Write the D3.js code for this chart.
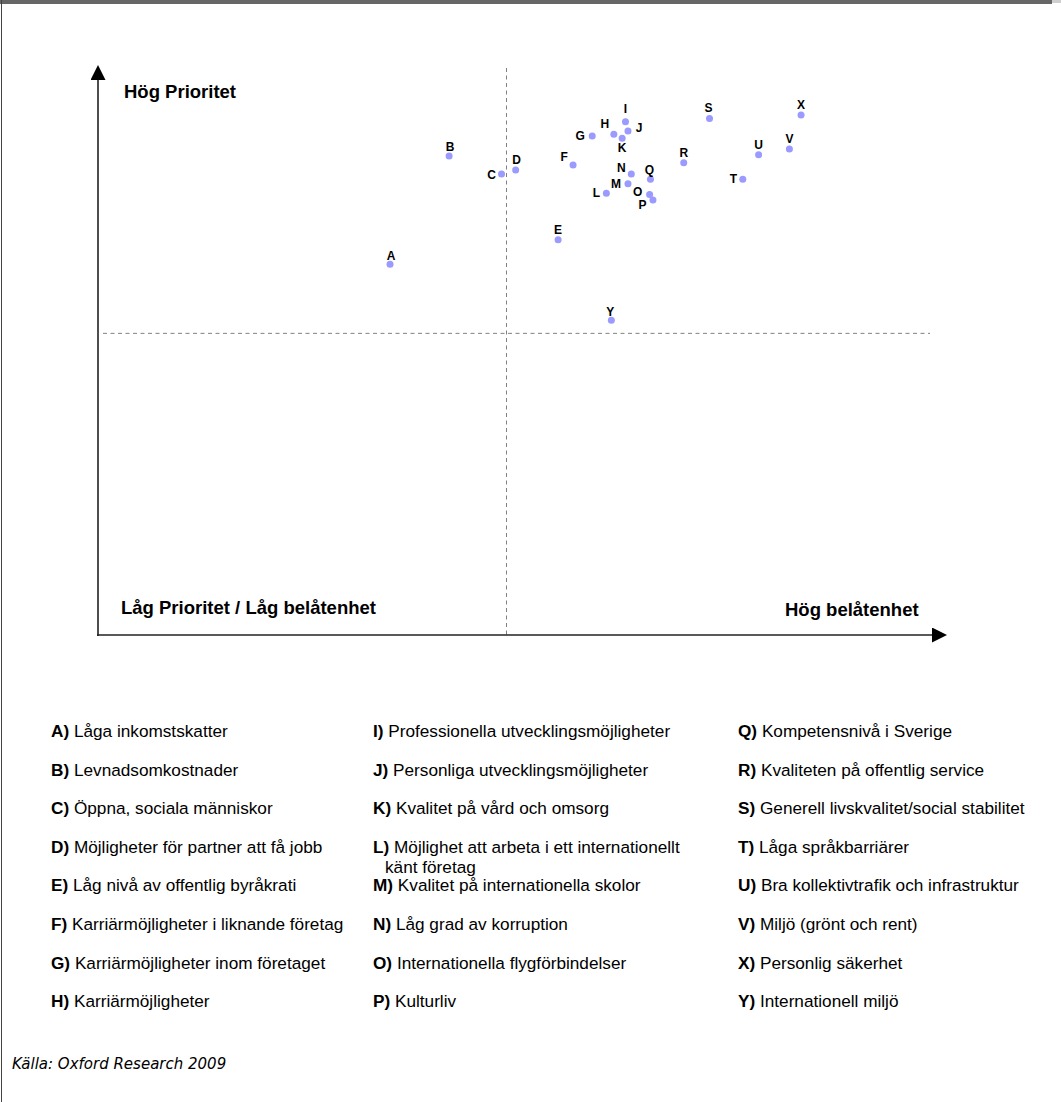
<!DOCTYPE html>
<html>
<head>
<meta charset="utf-8">
<script src="https://cdn.jsdelivr.net/npm/d3@7"></script>
<style>
  html, body { margin: 0; padding: 0; background: #fff; }
  svg { display: block; }
</style>
</head>
<body>
<script>
// Factor codes, their descriptions and where each sits on the
// satisfaction (x) / priority (y) map, both on a 0–100 index.
const codes = ["A","B","C","D","E","F","G","H","I","J","K","L","M","N","O","P","Q","R","S","T","U","V","X","Y"];
const descriptions = [
  "Låga inkomstskatter",
  "Levnadsomkostnader",
  "Öppna, sociala människor",
  "Möjligheter för partner att få jobb",
  "Låg nivå av offentlig byråkrati",
  "Karriärmöjligheter i liknande företag",
  "Karriärmöjligheter inom företaget",
  "Karriärmöjligheter",
  "Professionella utvecklingsmöjligheter",
  "Personliga utvecklingsmöjligheter",
  "Kvalitet på vård och omsorg",
  "Möjlighet att arbeta i ett internationellt|känt företag",
  "Kvalitet på internationella skolor",
  "Låg grad av korruption",
  "Internationella flygförbindelser",
  "Kulturliv",
  "Kompetensnivå i Sverige",
  "Kvaliteten på offentlig service",
  "Generell livskvalitet/social stabilitet",
  "Låga språkbarriärer",
  "Bra kollektivtrafik och infrastruktur",
  "Miljö (grönt och rent)",
  "Personlig säkerhet",
  "Internationell miljö"
];
const satisfaction = [35.1,42.2,48.5,50.2,55.3,57.1,59.4,62.0,63.4,63.7,63.0,61.1,63.7,64.1,66.3,66.7,66.4,70.4,73.5,77.5,79.4,83.1,84.5,61.7];
const priority     = [65.4,84.5,81.3,82.0,69.7,82.9,88.0,88.3,90.5,88.9,87.6,77.9,79.6,81.3,77.7,76.7,80.4,83.3,91.1,80.4,84.7,85.7,91.7,55.5];

// Quadrant dividers
const midSatisfaction = 49.1;
const midPriority = 53.2;

// Axis titles and source
const titleHighPriority = "Hög Prioritet";
const titleLow = "Låg Prioritet / Låg belåtenhet";
const titleHighSatisfaction = "Hög belåtenhet";
const sourceText = "Källa: Oxford Research 2009";

// Letter placement around each dot (dx, dy in px) so the crowded cluster stays readable
const labelOffsets = {
  A:[1,-8], B:[1,-9], C:[-10,1], D:[1,-10], E:[0,-10], F:[-9,-8], G:[-12,0], H:[-9,-10],
  I:[0,-12.5], J:[11,-3], K:[0,10], L:[-10,0], M:[-12,0], N:[-10,-6.5], O:[-12,-2.5],
  P:[-10.5,5], Q:[-1,-9.5], R:[0,-10], S:[-1,-10], T:[-9.5,0], U:[0,-9.5], V:[0,-10],
  X:[0,-10], Y:[-1,-8.5]
};

const W = 1061, H = 1102;
const svg = d3.select("body").append("svg").attr("width", W).attr("height", H)
  .style("font-family", "'Liberation Sans', Arial, sans-serif");

// Page frame: dark band on top, thin rule on the left
svg.append("rect").attr("x", 0).attr("y", 0).attr("width", 1052).attr("height", 4).attr("fill", "#666");
svg.append("rect").attr("x", 1052).attr("y", 0).attr("width", 9).attr("height", 3).attr("fill", "#cfcfcf");
svg.append("line").attr("x1", 1.5).attr("x2", 1.5).attr("y1", 0).attr("y2", H)
  .attr("stroke", "#444").attr("stroke-width", 1);

const x = d3.scaleLinear().domain([0, 100]).range([98, 930]);
const y = d3.scaleLinear().domain([0, 100]).range([635, 68]);

// Arrowheads
const defs = svg.append("defs");
defs.append("marker").attr("id", "arrow")
  .attr("viewBox", "0 0 15 15").attr("refX", 0).attr("refY", 7.5)
  .attr("markerWidth", 15).attr("markerHeight", 15).attr("markerUnits", "userSpaceOnUse")
  .attr("orient", "auto")
  .append("path").attr("d", "M0,0 L15,7.5 L0,15 Z").attr("fill", "#000");

// Quadrant dividers (dashed)
svg.append("line")
  .attr("x1", x(midSatisfaction)).attr("x2", x(midSatisfaction))
  .attr("y1", y(100)).attr("y2", y(0))
  .attr("stroke", "#808080").attr("stroke-width", 1).attr("stroke-dasharray", "4,3.5");
svg.append("line")
  .attr("x1", x(0) + 5).attr("x2", x(100))
  .attr("y1", y(midPriority)).attr("y2", y(midPriority))
  .attr("stroke", "#808080").attr("stroke-width", 1).attr("stroke-dasharray", "4,3.5");

// Axes with arrows
svg.append("line")
  .attr("x1", x(0)).attr("x2", x(0)).attr("y1", y(0) + 1).attr("y2", y(100) + 12)
  .attr("stroke", "#222").attr("stroke-width", 1.6).attr("marker-end", "url(#arrow)");
svg.append("line")
  .attr("x1", x(0) - 1).attr("x2", x(100) + 2).attr("y1", y(0)).attr("y2", y(0))
  .attr("stroke", "#222").attr("stroke-width", 1.6).attr("marker-end", "url(#arrow)");

// Axis titles
svg.append("text").attr("x", 124).attr("y", 98).text(titleHighPriority)
  .attr("font-size", 18.5).attr("font-weight", "bold").attr("fill", "#000");
svg.append("text").attr("x", 121).attr("y", 614).text(titleLow)
  .attr("font-size", 18.5).attr("font-weight", "bold").attr("fill", "#000");
svg.append("text").attr("x", 785).attr("y", 616).text(titleHighSatisfaction)
  .attr("font-size", 18.5).attr("font-weight", "bold").attr("fill", "#000");

// Points
const pts = codes.map((c, i) => ({ code: c, sx: satisfaction[i], py: priority[i] }));
const g = svg.append("g");
g.selectAll("circle").data(pts).join("circle")
  .attr("cx", d => x(d.sx)).attr("cy", d => y(d.py)).attr("r", 3.5)
  .attr("fill", "#9a9aff");
g.selectAll("text").data(pts).join("text")
  .attr("x", d => x(d.sx) + labelOffsets[d.code][0])
  .attr("y", d => y(d.py) + labelOffsets[d.code][1])
  .attr("text-anchor", "middle").attr("dominant-baseline", "central")
  .attr("font-size", 12).attr("font-weight", "bold").attr("fill", "#000")
  .text(d => d.code);

// Legend: three columns of eight
const colX = [51, 373, 738];
const rowY0 = 737, rowStep = 38.6, wrapStep = 20;
const legend = svg.append("g").attr("font-size", 17.2).attr("fill", "#000");
codes.forEach((c, i) => {
  const col = Math.floor(i / 8), row = i % 8;
  const lines = descriptions[i].split("|");
  // rows below a wrapped entry in the same column keep the regular grid
  const yy = rowY0 + row * rowStep;
  const t = legend.append("text").attr("x", colX[col]).attr("y", yy);
  t.append("tspan").attr("font-weight", "bold").text(c + ") ");
  t.append("tspan").text(lines[0]);
  for (let k = 1; k < lines.length; k++) {
    legend.append("text").attr("x", colX[col] + 12).attr("y", yy + k * wrapStep).text(lines[k]);
  }
});

// Source
svg.append("text").attr("x", 12).attr("y", 1069).text(sourceText)
  .attr("font-family", "'DejaVu Sans', Verdana, sans-serif")
  .attr("font-style", "italic").attr("font-size", 15).attr("fill", "#000");
</script>
</body>
</html>
